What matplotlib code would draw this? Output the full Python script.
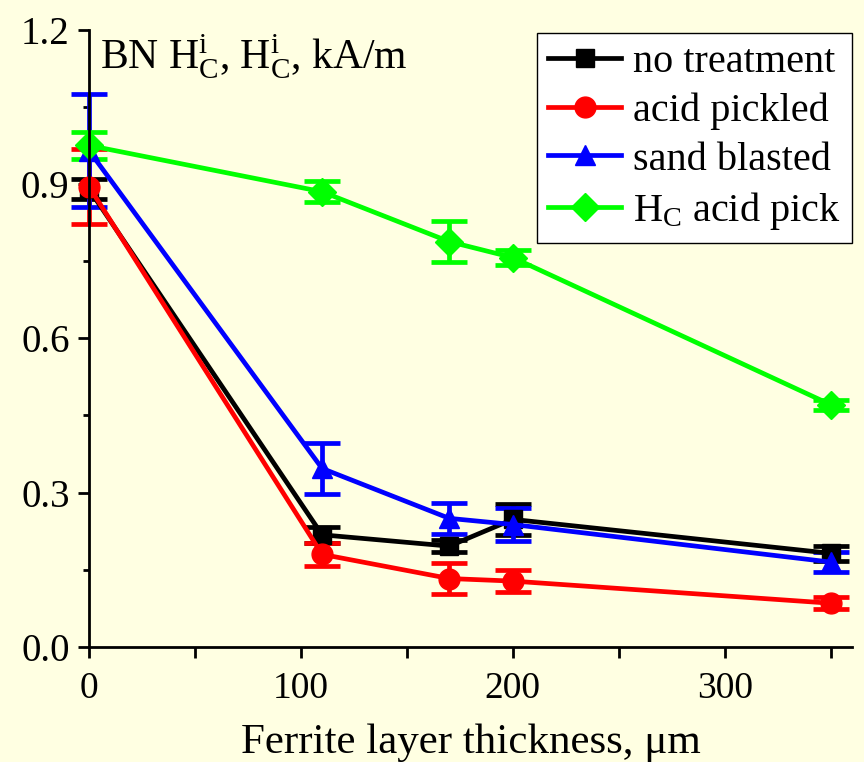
import matplotlib
matplotlib.use("Agg")
import matplotlib.pyplot as plt
from matplotlib.lines import Line2D

plt.rcParams['font.family'] = ['Liberation Serif', 'DejaVu Serif']
plt.rcParams['mathtext.fontset'] = 'custom'
plt.rcParams['mathtext.rm'] = 'Liberation Serif'
plt.rcParams['mathtext.it'] = 'Liberation Serif:italic'

x = [0, 110, 170, 200, 350]

no_treat = [0.89, 0.218, 0.196, 0.248, 0.182]
no_treat_err = [0.02, 0.015, 0.012, 0.03, 0.015]

acid = [0.895, 0.18, 0.133, 0.128, 0.085]
acid_err = [0.073, 0.022, 0.03, 0.022, 0.012]

sand = [0.965, 0.347, 0.25, 0.238, 0.165]
sand_err = [0.11, 0.05, 0.03, 0.033, 0.02]

hc_acid = [0.975, 0.885, 0.788, 0.757, 0.471]
hc_acid_err = [0.026, 0.02, 0.04, 0.015, 0.01]

labels = ['no treatment', 'acid pickled', 'sand blasted', r'H$_\mathrm{C}$ acid pick']
colors = ['black', 'red', 'blue', '#00FF00']
markers = ['s', 'o', '^', 'D']
sizes = [13, 15, 15, 14]

bg = '#FFFFE2'
fig = plt.figure(figsize=(8.64, 7.62), dpi=100, facecolor=bg)
ax = fig.add_axes([0.103, 0.151, 0.883, 0.810], facecolor=bg)

series = [(no_treat, no_treat_err), (acid, acid_err), (sand, sand_err), (hc_acid, hc_acid_err)]
handles = []
for (y, e), lab, c, m, s in zip(series, labels, colors, markers, sizes):
    ax.errorbar(x, y, yerr=e, color=c, marker=m, markersize=s, lw=3.4,
                elinewidth=3.4, capsize=13, capthick=3.4, clip_on=False)
    handles.append(Line2D([], [], color=c, marker=m, markersize=s, lw=3.4, label=lab))

ax.set_xlim(0, 360)
ax.set_ylim(0, 1.2)
ax.set_xticks([0, 100, 200, 300])
ax.set_xticks([50, 150, 250, 350], minor=True)
ax.set_yticks([0.0, 0.3, 0.6, 0.9, 1.2])
ax.set_yticks([0.15, 0.45, 0.75, 1.05], minor=True)
ax.set_yticklabels(['0.0', '0.3', '0.6', '0.9', '1.2'])
for sp in ['top', 'right']:
    ax.spines[sp].set_visible(False)
for sp in ['left', 'bottom']:
    ax.spines[sp].set_linewidth(2)
ax.tick_params(axis='both', which='major', width=2, length=8, direction='out')
ax.tick_params(axis='x', which='major', labelsize=27, pad=10)
ax.tick_params(axis='y', which='major', labelsize=28, pad=6)
ax.tick_params(axis='x', which='minor', width=2, length=8, direction='out')
ax.tick_params(axis='y', which='minor', width=2, length=4, direction='out')

ax.set_xlabel('Ferrite layer thickness, μm', fontsize=31, labelpad=12)
ax.text(0.015, 0.995, r'BN H$_\mathrm{C}^\mathrm{i}$, H$_\mathrm{C}^\mathrm{i}$, kA/m',
        transform=ax.transAxes, fontsize=30, va='top', ha='left')

leg = ax.legend(handles=handles, loc='upper right', bbox_to_anchor=(1.0, 0.995), fontsize=29,
                frameon=True, fancybox=False, edgecolor='black', facecolor='white', framealpha=1,
                handlelength=1.8, borderpad=0.28, labelspacing=0.28, handletextpad=0.3,
                borderaxespad=0.0)
leg.get_frame().set_linewidth(1)

fig.savefig('out.png', dpi=100, facecolor=bg)
